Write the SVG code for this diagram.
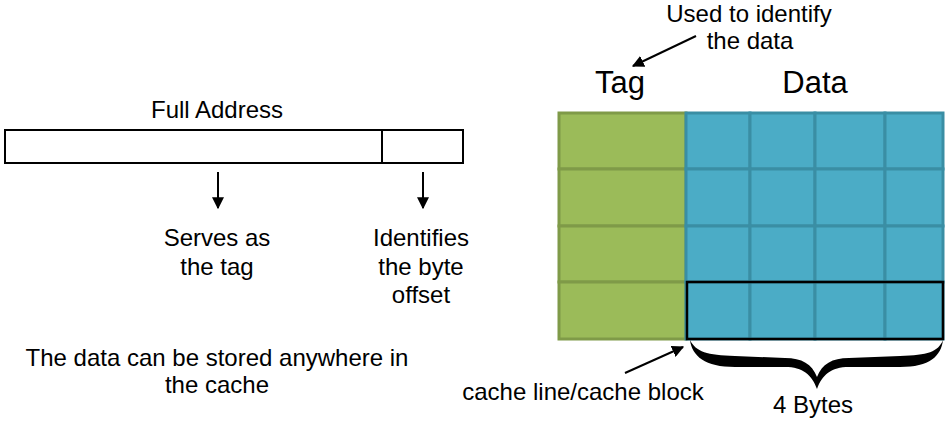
<svg xmlns="http://www.w3.org/2000/svg" width="950" height="423" viewBox="0 0 950 423">
<style>
text{font-family:"Liberation Sans",Arial,sans-serif;fill:#000;text-anchor:middle}
.t{font-size:24px}
.h{font-size:31px}
.tag{fill:#9bbb59;stroke:#7f9a48;stroke-width:3}
.dat{fill:#4bacc6;stroke:#3a8ea4;stroke-width:3}
.ln{stroke:#000;stroke-width:2;fill:none}
</style>
<defs>
<marker id="ah" viewBox="0 0 10 10" refX="9" refY="5" markerWidth="6" markerHeight="6" orient="auto" markerUnits="strokeWidth">
<path d="M0,0 L10,5 L0,10 z" fill="#000"/>
</marker>
</defs>
<rect width="950" height="423" fill="#fff"/>

<g id="address">
<text class="t" x="217" y="118">Full Address</text>
<rect x="5" y="130" width="458" height="33" fill="#fff" stroke="#000" stroke-width="2"/>
<line x1="382" y1="130" x2="382" y2="163" stroke="#000" stroke-width="2"/>
</g>

<g id="tag-label">
<text class="t" x="217" y="246">Serves as</text>
<text class="t" x="217" y="275">the tag</text>
</g>
<g id="offset-label">
<text class="t" x="421" y="246">Identifies</text>
<text class="t" x="421" y="275">the byte</text>
<text class="t" x="421" y="303">offset</text>
</g>
<g id="note">
<text class="t" x="217" y="366">The data can be stored anywhere in</text>
<text class="t" x="217" y="393">the cache</text>
</g>

<g id="headers">
<text class="t" x="749" y="22">Used to identify</text>
<text class="t" x="750" y="49">the data</text>
<text class="h" x="620" y="93">Tag</text>
<text class="h" x="815" y="93">Data</text>
</g>

<g id="cache">
<rect class="tag" x="559" y="113" width="127" height="56"/>
<rect class="tag" x="559" y="169" width="127" height="57"/>
<rect class="tag" x="559" y="226" width="127" height="56"/>
<rect class="tag" x="559" y="282" width="127" height="57"/>
<g>
<rect class="dat" x="686" y="113" width="64" height="56"/>
<rect class="dat" x="750" y="113" width="65" height="56"/>
<rect class="dat" x="815" y="113" width="70" height="56"/>
<rect class="dat" x="885" y="113" width="58" height="56"/>
<rect class="dat" x="686" y="169" width="64" height="57"/>
<rect class="dat" x="750" y="169" width="65" height="57"/>
<rect class="dat" x="815" y="169" width="70" height="57"/>
<rect class="dat" x="885" y="169" width="58" height="57"/>
<rect class="dat" x="686" y="226" width="64" height="56"/>
<rect class="dat" x="750" y="226" width="65" height="56"/>
<rect class="dat" x="815" y="226" width="70" height="56"/>
<rect class="dat" x="885" y="226" width="58" height="56"/>
<rect class="dat" x="686" y="282" width="64" height="57"/>
<rect class="dat" x="750" y="282" width="65" height="57"/>
<rect class="dat" x="815" y="282" width="70" height="57"/>
<rect class="dat" x="885" y="282" width="58" height="57"/>
</g>
<rect x="687" y="282" width="256" height="57" fill="none" stroke="#000" stroke-width="2.5"/>
</g>

<g id="brace">
<path d="M690,340 C692,356 705,367 735,367 L785,367 C803,367 812,375 817,389 C822,375 831,367 849,367 L900,367 C930,367 941,356 943,340 C938,352 928,355 900,356 L849,358 C832,358 822,364 817,377 C812,364 802,358 785,358 L735,356 C707,355 696,352 690,340 Z" fill="#000"/>
<text class="t" x="813" y="413">4 Bytes</text>
</g>

<g id="block-label">
<text class="t" x="583" y="400">cache line/cache block</text>
</g>

<g id="connectors">
<line class="ln" x1="218" y1="172" x2="218" y2="208" marker-end="url(#ah)"/>
<line class="ln" x1="423" y1="172" x2="423" y2="208" marker-end="url(#ah)"/>
<line class="ln" x1="696" y1="36" x2="633" y2="66" marker-end="url(#ah)"/>
<line class="ln" x1="625" y1="373" x2="683" y2="347" marker-end="url(#ah)"/>
</g>
</svg>
